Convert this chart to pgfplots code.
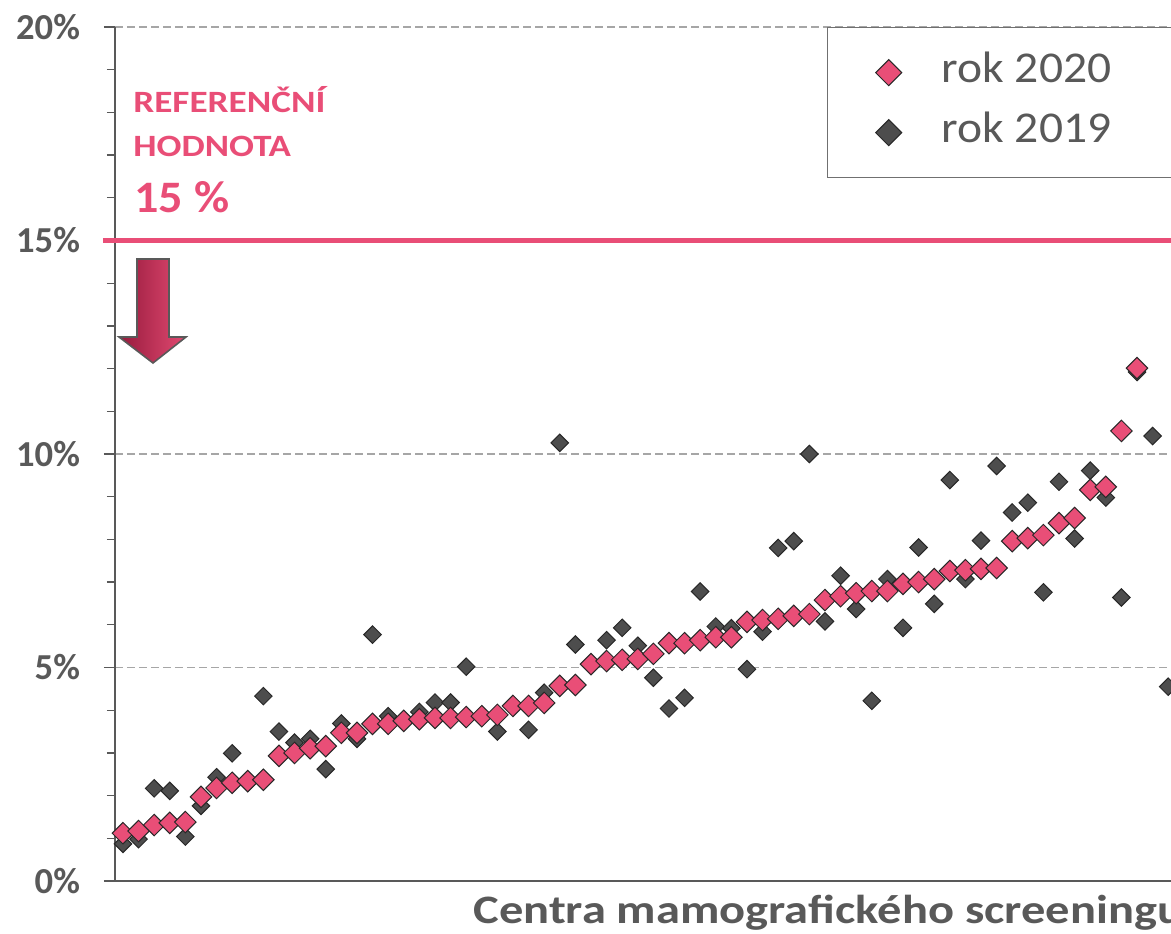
\documentclass[border=0pt]{standalone}
\usepackage{pgfplots}
\pgfplotsset{compat=1.18}
\usepackage{graphicx}
\usepackage{fontspec}
\setmainfont{Carlito}
\definecolor{refpink}{RGB}{233,78,119}
\definecolor{markgrey}{RGB}{77,77,77}
\definecolor{markedge}{RGB}{40,40,40}
\definecolor{axisgrey}{RGB}{89,89,89}
\definecolor{gridgrey}{RGB}{166,166,166}
\definecolor{textgrey}{RGB}{89,89,89}
\definecolor{legendgrey}{RGB}{112,112,112}
\definecolor{arrowdark}{RGB}{150,26,60}
\definecolor{arrowlight}{RGB}{226,74,114}

\pgfplotstableread{
i v
0 1.12
1 1.17
2 1.31
3 1.36
4 1.38
5 1.97
6 2.18
7 2.30
8 2.34
9 2.37
10 2.93
11 3.00
12 3.11
13 3.16
14 3.47
15 3.47
16 3.68
17 3.68
18 3.75
19 3.79
20 3.82
21 3.82
22 3.84
23 3.86
24 3.89
25 4.10
26 4.10
27 4.17
28 4.57
29 4.59
30 5.08
31 5.15
32 5.18
33 5.20
34 5.32
35 5.57
36 5.57
37 5.64
38 5.71
39 5.71
40 6.07
41 6.11
42 6.14
43 6.21
44 6.25
45 6.58
46 6.67
47 6.74
48 6.79
49 6.79
50 6.96
51 7.00
52 7.07
53 7.26
54 7.28
55 7.31
56 7.33
57 7.96
58 8.03
59 8.10
60 8.38
61 8.50
62 9.16
63 9.23
64 10.54
65 12.01
}\rokA

\pgfplotstableread{
i v
0 0.87
1 0.98
2 2.17
3 2.11
4 1.04
5 1.76
6 2.43
7 2.99
8 2.30
9 4.33
10 3.50
11 3.24
12 3.33
13 2.62
14 3.69
15 3.33
16 5.77
17 3.86
18 3.78
19 3.96
20 4.18
21 4.18
22 5.02
23 3.88
24 3.50
25 4.12
26 3.54
27 4.41
28 10.26
29 5.54
30 5.10
31 5.64
32 5.93
33 5.51
34 4.76
35 4.04
36 4.29
37 6.78
38 5.96
39 5.92
40 4.96
41 5.84
42 7.80
43 7.96
44 10.00
45 6.08
46 7.15
47 6.37
48 4.22
49 7.07
50 5.93
51 7.81
52 6.49
53 9.39
54 7.07
55 7.97
56 9.72
57 8.63
58 8.86
59 6.76
60 9.35
61 8.02
62 9.61
63 8.98
64 6.64
65 11.92
66 10.42
67 4.55
}\rokB

\begin{document}
\begin{tikzpicture}
\begin{axis}[
  name=ax,
  scale only axis,
  width=528pt, height=427pt,
  xmin=-0.51, xmax=67.18, ymin=0, ymax=20,
  clip=false,
  axis x line*=bottom, axis y line*=left,
  every non boxed x axis/.append style={x axis line style={-}},
  every non boxed y axis/.append style={y axis line style={-}},
  axis line style={draw=axisgrey, line width=0.65pt},
  xtick=\empty,
  ytick={0,5,10,15,20},
  yticklabels={0\%,5\%,10\%,15\%,20\%},
  minor ytick={1,2,3,4,6,7,8,9,11,12,13,14,16,17,18,19},
  tick align=outside,
  major tick length=5.5pt, minor tick length=4pt,
  every tick/.style={draw=axisgrey, line width=0.65pt},
  ymajorgrids,
  major grid style={draw=gridgrey, line width=0.9pt, dash pattern=on 4pt off 2pt},
  yticklabel style={font=\fontsize{18.3}{20}\selectfont\bfseries, text=textgrey, xshift=-8.5pt},
  legend style={at={(axis cs:45.13,20)}, anchor=north west,
    draw=legendgrey, line width=0.7pt,
    font=\fontsize{22}{26}\selectfont, text=textgrey,
    nodes={inner sep=0pt, text height=15pt, text depth=5pt},
    inner xsep=24pt, inner ysep=12.5pt,
    row sep=10pt, column sep=20pt},
  legend cell align=left,
  reverse legend,
  legend image code/.code={\draw[#1,only marks] plot coordinates {(0pt,0pt)};},
  legend image post style={mark size=4.6pt},
]
\draw[refpink, line width=2.5pt] ([xshift=-6pt]axis cs:-0.51,15) -- (axis cs:67.18,15);
\addplot[only marks, mark=square*, mark size=3.1pt,
  mark options={rotate=45, fill=markgrey, draw=markedge, line width=0.5pt}]
  table[x=i, y=v] {\rokB};
\addlegendentry{\scalebox{1.08}[1]{rok 2019}\hspace*{90pt}}
\addplot[only marks, mark=square*, mark size=3.8pt,
  mark options={rotate=45, fill=refpink, draw=markedge, line width=0.5pt}]
  table[x=i, y=v] {\rokA};
\addlegendentry{\scalebox{1.08}[1]{rok 2020}\hspace*{90pt}}
\end{axis}
% annotations
\node[anchor=base west, inner sep=0pt, text=refpink, font=\fontsize{15.5}{18}\selectfont\bfseries]
  at ([shift={(9pt,384pt)}]ax.south west) {\scalebox{1.2}[1]{REFERENČNÍ}};
\node[anchor=base west, inner sep=0pt, text=refpink, font=\fontsize{15.5}{18}\selectfont\bfseries]
  at ([shift={(9pt,362pt)}]ax.south west) {\scalebox{1.19}[1]{HODNOTA}};
\node[anchor=base west, inner sep=0pt, text=refpink, font=\fontsize{22.5}{26}\selectfont\bfseries]
  at ([shift={(9.5pt,334pt)}]ax.south west) {\scalebox{1.07}[1]{15 \%}};
\shade[left color=arrowdark, right color=arrowlight]
  ([shift={(11pt,311pt)}]ax.south west) -- ([shift={(27pt,311pt)}]ax.south west)
  -- ([shift={(27pt,272pt)}]ax.south west) -- ([shift={(35.5pt,272pt)}]ax.south west)
  -- ([shift={(19pt,259pt)}]ax.south west) -- ([shift={(2pt,272pt)}]ax.south west)
  -- ([shift={(11pt,272pt)}]ax.south west) -- cycle;
\draw[draw=axisgrey, line width=0.8pt, line join=miter]
  ([shift={(11pt,311pt)}]ax.south west) -- ([shift={(27pt,311pt)}]ax.south west)
  -- ([shift={(27pt,272pt)}]ax.south west) -- ([shift={(35.5pt,272pt)}]ax.south west)
  -- ([shift={(19pt,259pt)}]ax.south west) -- ([shift={(2pt,272pt)}]ax.south west)
  -- ([shift={(11pt,272pt)}]ax.south west) -- cycle;
\node[anchor=base west, inner sep=0pt, text=textgrey, font=\fontsize{20.2}{23}\selectfont\bfseries]
  at ([shift={(179pt,-21pt)}]ax.south west) {\scalebox{1.2}[1]{Centra mamografického screeningu}};
\pgfresetboundingbox
\path ([shift={(-57.5pt,-26pt)}]ax.south west) rectangle ([shift={(528pt,440.5pt)}]ax.south west);
\end{tikzpicture}
\end{document}
